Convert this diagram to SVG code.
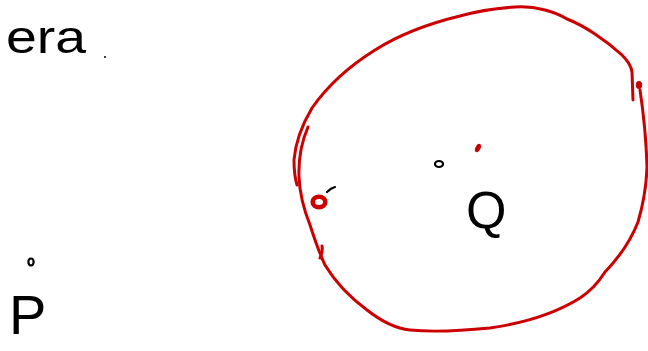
<svg xmlns="http://www.w3.org/2000/svg" width="648" height="351" viewBox="0 0 648 351">
<style>
.red{fill:none;stroke:#cc0000;stroke-width:3;stroke-linecap:round;stroke-linejoin:round}
.blk{fill:none;stroke:#000;stroke-width:2.2;stroke-linecap:round;stroke-linejoin:round}
.hand{font-family:"Liberation Sans",Arial,sans-serif;fill:#000}
</style>
<rect width="648" height="351" fill="#fff"/>
<g id="label-era">
<text class="hand" x="6" y="53" font-size="46" textLength="80" lengthAdjust="spacingAndGlyphs">era</text>
<circle cx="105" cy="57" r="1" fill="#000"/>
</g>
<g id="label-P">
<ellipse class="blk" cx="31" cy="262" rx="2.6" ry="3.5"/>
<text class="hand" x="9" y="334" font-size="56">P</text>
</g>
<g id="sphere">
<path class="red" d="M633,100 L632,72 Q631,64 622,55 Q610,44 595,34 Q580,24 567,19 Q557,13 545,10 Q530,6 515,7 Q485,9 460,16 Q410,28 375,50 Q335,75 312,108 Q296,135 294,160 Q294,175 297,185"/>
<path class="red" d="M308,127 Q298,150 299,177 Q300,200 310,225 Q318,250 325,265 Q340,290 367,310 Q390,328 410,330 Q440,333 490,328 Q545,320 580,298 Q595,288 605,272 Q628,248 638,222 Q646,195 647,167 Q646,130 640,90"/>
<path class="red" d="M320,258 Q323,252 322,246"/>
<ellipse cx="639" cy="85" rx="3.2" ry="4" fill="#cc0000"/>
</g>
<g id="point-red-left">
<ellipse cx="319" cy="202" rx="6.3" ry="5.3" fill="none" stroke="#cc0000" stroke-width="4.6"/>
<path class="blk" d="M327,192 Q331,188 335,187" stroke-width="1.6"/>
</g>
<g id="point-red-center">
<ellipse cx="478" cy="148" rx="2.6" ry="4.5" fill="#cc0000" transform="rotate(25 478 148)"/>
</g>
<g id="label-Q">
<ellipse class="blk" cx="439" cy="164" rx="4" ry="3"/>
<text class="hand" x="466" y="228" font-size="52">Q</text>
</g>
</svg>
